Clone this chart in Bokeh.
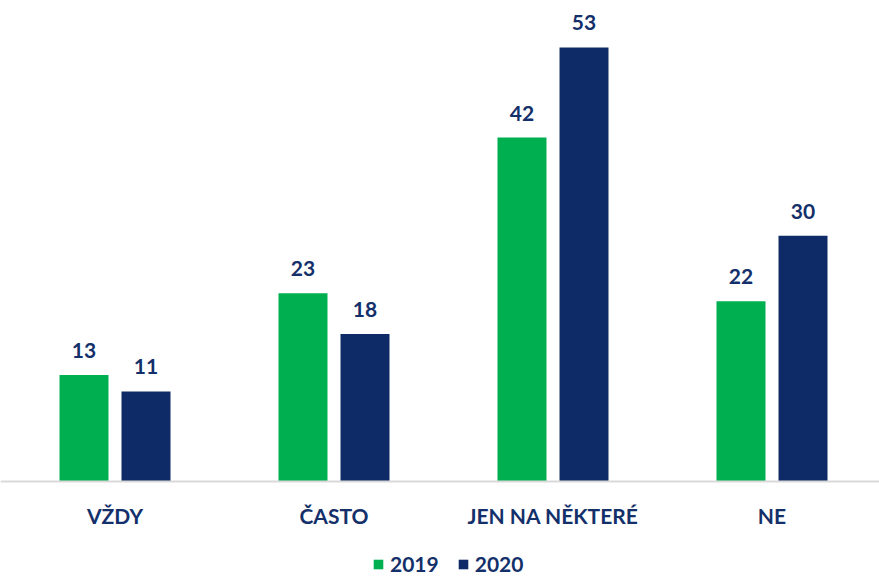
from bokeh.plotting import figure
from bokeh.models import ColumnDataSource, Range1d, Span, Legend, LegendItem
from bokeh.transform import dodge
from bokeh.core.properties import value
from bokeh.embed import file_html
from bokeh.resources import INLINE

categories = ["VŽDY", "ČASTO", "JEN NA NĚKTERÉ", "NE"]
series_names = ["2019", "2020"]
values_2019 = [13, 23, 42, 22]
values_2020 = [11, 18, 53, 30]

GREEN = "#00B050"
NAVY = "#0F2B67"
TEXT = "#14306A"
FONT = "Lato"

W, H = 879, 576
BASE = 481          # pixel row of the zero line
PX_PER_UNIT = 8.19

xs = [i + 0.5 for i in range(len(categories))]
src = ColumnDataSource(dict(
    x=xs, cat=categories, zero=[0] * len(categories),
    v2019=values_2019, v2020=values_2020,
    t2019=[str(v) for v in values_2019], t2020=[str(v) for v in values_2020],
))

x0 = 0.5 - 114.5 / 219
y_top = BASE / PX_PER_UNIT
y_bot = -(H - BASE) / PX_PER_UNIT

p = figure(width=W, height=H, output_backend="svg", toolbar_location=None,
           x_range=Range1d(x0, x0 + W / 219), y_range=Range1d(y_bot, y_top),
           min_border_left=0, min_border_right=0, min_border_top=0, min_border_bottom=0)
p.outline_line_color = None
p.grid.visible = False
p.axis.visible = False
p.background_fill_color = "white"
p.border_fill_color = "white"

p.add_layout(Span(location=0, dimension="width", line_color="#D9D9D9", line_width=2))

off = 0.1416
w = 0.2237
r1 = p.vbar(x=dodge("x", -off, range=p.x_range), top="v2019", bottom=0, width=w, source=src,
            fill_color=GREEN, line_color=None)
r2 = p.vbar(x=dodge("x", off, range=p.x_range), top="v2020", bottom=0, width=w, source=src,
            fill_color=NAVY, line_color=None)

for col, tcol, d in (("v2019", "t2019", -off), ("v2020", "t2020", off)):
    p.text(x=dodge("x", d, range=p.x_range), y=col, text=tcol, source=src,
           text_align="center", text_baseline="alphabetic", y_offset=-24.5,
           text_font=value(FONT), text_font_style="bold", text_font_size="21px",
           text_color=TEXT)

p.text(x="x", y="zero", text="cat", source=src, text_align="center",
       text_baseline="alphabetic", y_offset=34,
       text_font=value(FONT), text_font_style="bold", text_font_size="21px",
       text_color=TEXT)

legend = Legend(items=[LegendItem(label=series_names[0], renderers=[r1]),
                       LegendItem(label=series_names[1], renderers=[r2])],
                orientation="horizontal", location=(372, 0),
                glyph_width=12, glyph_height=12, spacing=18, label_standoff=6,
                label_height=12, padding=0, margin=0,
                border_line_color=None, background_fill_alpha=0,
                label_text_font=FONT, label_text_font_style="bold",
                label_text_font_size="21px", label_text_color=TEXT)
p.add_layout(legend, "center")

open("out.html", "w").write(file_html(p, INLINE))
